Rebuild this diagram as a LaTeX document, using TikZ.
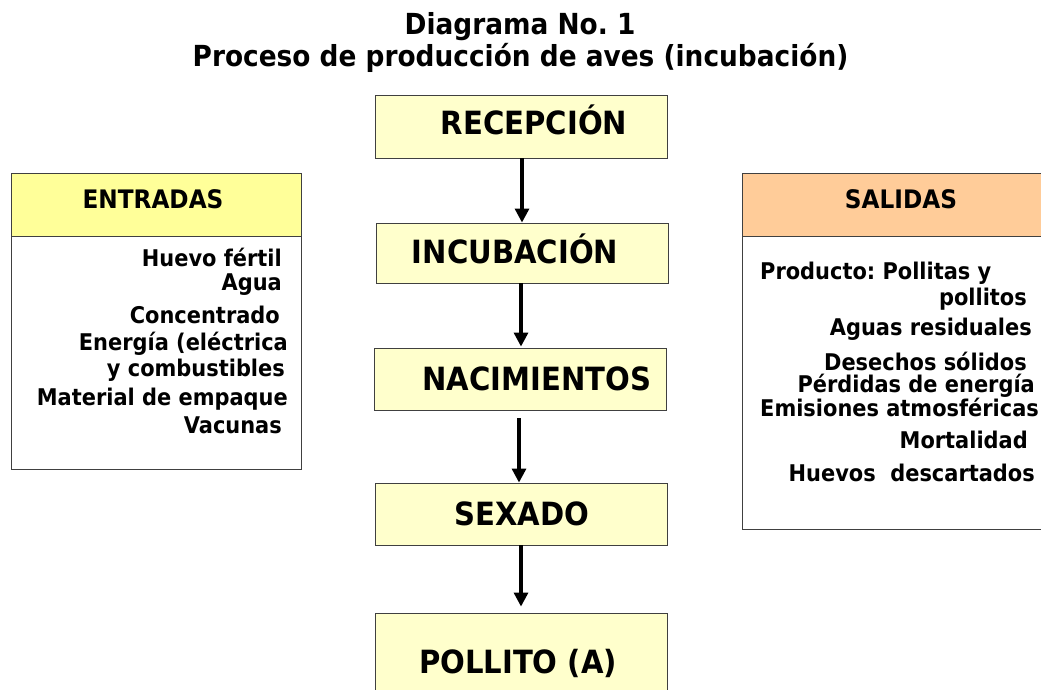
\documentclass[tikz,border=0pt]{standalone}
\usepackage{fontspec}
\setmainfont[FakeStretch=0.91]{DejaVu Sans}
\usetikzlibrary{arrows.meta}
\definecolor{boxyellow}{HTML}{FFFFCC}
\definecolor{hdryellow}{HTML}{FFFF99}
\definecolor{hdrorange}{HTML}{FFCC99}
\definecolor{edge}{HTML}{404040}
\frenchspacing
\begin{document}
\begin{tikzpicture}[x=1pt,y=-1pt,
  stepbox/.style={draw=edge, line width=0.9pt, fill=boxyellow, minimum width=292pt, minimum height=62pt, inner sep=0pt},
  steptxt/.style={anchor=base, inner sep=0pt, font=\fontsize{32}{36}\selectfont\bfseries},
  panel/.style={draw=edge, line width=0.9pt, inner sep=0pt},
  hdrtxt/.style={anchor=base, inner sep=0pt, font=\fontsize{25.5}{28}\selectfont\bfseries},
  bodyR/.style={anchor=base east, inner sep=0pt, font=\fontsize{23}{26}\selectfont\bfseries},
  bodyL/.style={anchor=base west, inner sep=0pt, font=\fontsize{23}{26}\selectfont\bfseries},
  titletxt/.style={anchor=base, inner sep=0pt, font=\fontsize{29}{33}\selectfont\bfseries},
  arr/.style={-{Triangle[width=14pt,length=14pt]}, line width=3.2pt, black}]
\useasboundingbox (0,0) rectangle (1041,690);
\clip (0,0) rectangle (1041,690);
\fill[white] (0,0) rectangle (1041,690);

% title
\node[titletxt] (t1) at (520,35) {Diagrama No. 1};
\node[titletxt] (t2) at (520.5,67) {Proceso de producción de aves (incubación)};

% central process boxes
\node[stepbox, minimum height=63pt] (rec) at (521.5,126.5) {};
\node[stepbox, minimum height=60pt] (inc) at (522,253) {};
\node[stepbox] (nac) at (520.5,379) {};
\node[stepbox] (sex) at (521,514) {};
\node[stepbox, minimum height=94pt] (pol) at (521,660) {};

\node[steptxt] (recT) at (534,135) {RECEPCIÓN};
\node[steptxt] (incT) at (515,263.3) {INCUBACIÓN};
\node[steptxt] (nacT) at (537,390) {NACIMIENTOS};
\node[steptxt] (sexT) at (522,525) {SEXADO};
\node[steptxt] (polT) at (518,673.3) {POLLITO (A)};

% arrows
\draw[arr] ([xshift=0.5pt]rec.south) -- ([xshift=0pt]inc.north);
\draw[arr] ([xshift=-1pt]inc.south) -- ([xshift=0.5pt, yshift=1pt]nac.north);
\draw[arr] ([xshift=-1.5pt, yshift=-8pt]nac.south) -- ([xshift=-2pt]sex.north);
\draw[arr] ([xshift=0pt]sex.south) -- ([yshift=6pt]pol.north);

% ENTRADAS panel
\node[panel, fill=hdryellow, minimum width=290pt, minimum height=63pt] (entH) at (156,204.5) {};
\node[panel, fill=white, minimum width=290pt, minimum height=233pt] (entB) at (156,352.5) {};
\node[hdrtxt] (entT) at (153,208.3) {ENTRADAS};
\node[bodyR] (e1) at (282,266.7) {Huevo fértil};
\node[bodyR] (e2) at (282,290) {Agua};
\node[bodyR] (e3) at (280,323) {Concentrado};
\node[bodyR] (e4) at (288,350) {Energía (eléctrica};
\node[bodyR] (e5) at (285,376.7) {y combustibles};
\node[bodyR] (e6) at (288,405) {Material de empaque};
\node[bodyR] (e7) at (282,433.3) {Vacunas};

% SALIDAS panel
\node[panel, fill=hdrorange, minimum width=308pt, minimum height=63pt] (salH) at (896,204.5) {};
\node[panel, fill=white, minimum width=308pt, minimum height=293pt] (salB) at (896,382.5) {};
\node[hdrtxt] (salT) at (901,208.3) {SALIDAS};
\node[bodyL] (s1) at (760,279.3) {Producto: Pollitas y};
\node[bodyR] (s2) at (1027,305) {pollitos};
\node[bodyR] (s3) at (1032,335) {Aguas residuales};
\node[bodyR] (s4) at (1027,370) {Desechos sólidos};
\node[bodyR] (s5) at (1035,392.3) {Pérdidas de energía};
\node[bodyL] (s6) at (760,416.7) {Emisiones atmosféricas};
\node[bodyR] (s7) at (1028,448.3) {Mortalidad};
\node[bodyR] (s8) at (1035,481.7) {Huevos\ \ descartados};
\end{tikzpicture}
\end{document}
